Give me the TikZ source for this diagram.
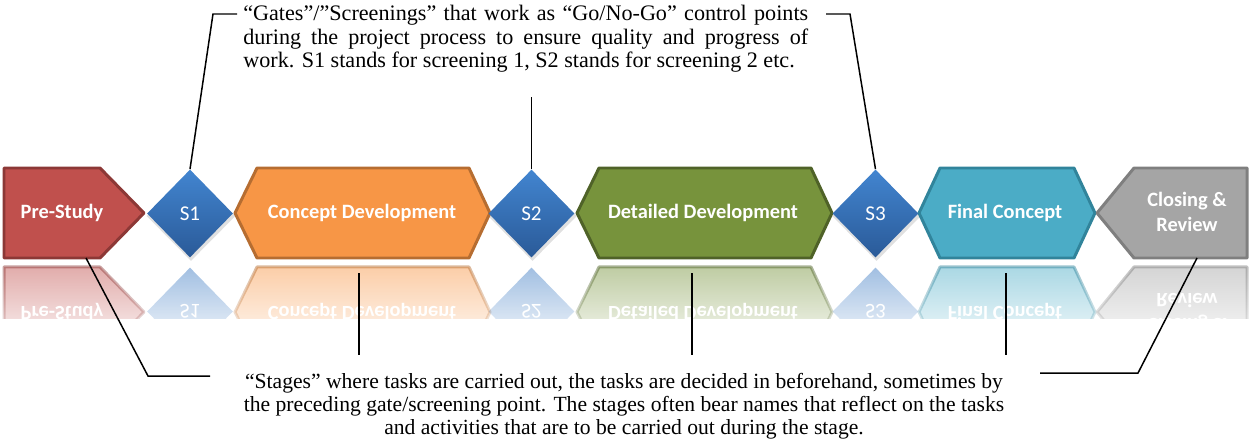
\documentclass[tikz,border=0pt]{standalone}
\usepackage{fontspec}
\setmainfont{Liberation Serif}
\newfontfamily\calib{Carlito}
\usetikzlibrary{shapes.geometric,fadings}

\tikzfading[name=refl, top color=transparent!52, middle color=transparent!86, bottom color=transparent!100]

\definecolor{redF}{RGB}{192,80,77}\definecolor{redB}{RGB}{140,56,54}
\definecolor{orF}{RGB}{247,150,70}\definecolor{orB}{RGB}{182,109,49}
\definecolor{grF}{RGB}{119,147,60}\definecolor{grB}{RGB}{79,98,40}
\definecolor{cyF}{RGB}{75,172,198}\definecolor{cyB}{RGB}{49,132,155}
\definecolor{gyF}{RGB}{165,165,165}\definecolor{gyB}{RGB}{127,127,127}
\definecolor{blT}{RGB}{66,133,208}\definecolor{blB}{RGB}{42,90,152}

\tikzset{
 prepath/.style={insert path={(4,168) -- (100,168) -- (144,213) -- (100,258) -- (4,258) -- cycle}},
 conpath/.style={insert path={(235,213) -- (257,168) -- (469,168) -- (490,213) -- (469,258) -- (257,258) -- cycle}},
 detpath/.style={insert path={(577,213) -- (599,168) -- (811,168) -- (832,213) -- (811,258) -- (599,258) -- cycle}},
 finpath/.style={insert path={(919,213) -- (940,168) -- (1074,168) -- (1095,213) -- (1074,258) -- (940,258) -- cycle}},
 clopath/.style={insert path={(1097,213) -- (1134,168) -- (1247,168) -- (1247,258) -- (1134,258) -- cycle}},
}

\begin{document}
\begin{tikzpicture}[x=0.02cm,y=-0.02cm,
 stagebox/.style={line width=1.7pt, line join=round},
 stagefade/.style={line width=1.7pt, line join=round, path fading=refl},
 stagelabel/.style={text=white, font=\calib\bfseries\fontsize{11.6}{14.6}\selectfont, align=center, inner sep=0},
 gate/.style={diamond, aspect=1, inner sep=0, minimum width=1.72cm, minimum height=1.76cm, top color=blT, bottom color=blB, text=white, font=\calib\fontsize{12}{14}\selectfont},
 gatefade/.style={diamond, aspect=1, inner sep=0, minimum width=1.72cm, minimum height=1.76cm, fill=blT!75!blB, path fading=refl, text=white, font=\calib\fontsize{12}{14}\selectfont, yscale=-1},
 gateshadow/.style={diamond, aspect=1, inner sep=0, minimum width=1.78cm, minimum height=1.80cm, fill=black, opacity=0.12},
 link/.style={line width=0.85pt, black},
 note/.style={inner sep=0, font=\fontsize{12.6}{13.3}\selectfont}]

\useasboundingbox (0,0) rectangle (1250,439);

% reflections
\begin{scope}
 \clip (0,264) rectangle (1250,318);
 \begin{scope}[shift={(0,99)}]
  \path[stagefade, draw=redB, fill=redF, prepath];
  \path[stagefade, draw=orB, fill=orF, conpath];
  \path[stagefade, draw=grB, fill=grF, detpath];
  \path[stagefade, draw=cyB, fill=cyF, finpath];
  \path[stagefade, draw=gyB, fill=gyF, clopath];
 \end{scope}
 \node[gatefade] (s1r) at (190,311.5) {S1};
 \node[gatefade] (s2r) at (531.5,311.5) {S2};
 \node[gatefade] (s3r) at (875.5,311.5) {S3};
 \node[stagelabel, yscale=-1] (prer) at (62,312) {Pre-Study};
 \node[stagelabel, yscale=-1] (conr) at (362,312) {Concept Development};
 \node[stagelabel, yscale=-1] (detr) at (703,312) {Detailed Development};
 \node[stagelabel, yscale=-1] (finr) at (1005,312) {Final Concept};
 \node[stagelabel, yscale=-1] (clor) at (1187,313) {Closing \&\\Review};
\end{scope}

% soft shadows under gates
\node[gateshadow] (s1s) at (191,216) {};
\node[gateshadow] (s2s) at (532.5,216) {};
\node[gateshadow] (s3s) at (876.5,216) {};

% stages
\path[stagebox, draw=redB, fill=redF, prepath];
\path[stagebox, draw=orB, fill=orF, conpath];
\path[stagebox, draw=grB, fill=grF, detpath];
\path[stagebox, draw=cyB, fill=cyF, finpath];
\path[stagebox, draw=gyB, fill=gyF, clopath];

\node[stagelabel] (pre) at (62,213) {Pre-Study};
\node[gate] (s1) at (190,213.5) {S1};
\node[stagelabel] (concept) at (362,213) {Concept Development};
\node[gate] (s2) at (531.5,213.5) {S2};
\node[stagelabel] (detail) at (703,213) {Detailed Development};
\node[gate] (s3) at (875.5,213.5) {S3};
\node[stagelabel] (final) at (1005,213) {Final Concept};
\node[stagelabel] (closing) at (1187,212) {Closing \&\\Review};

% notes
\node[note, anchor=base west] (gates) at (243,21) {\parbox[t]{11.3cm}{\hyphenpenalty=10000
“Gates”/”Screenings” that work as “Go/No-Go” control points\linebreak
during the project process to ensure quality and progress of\linebreak
work. S1 stands for screening 1, S2 stands for screening 2 etc.}};

\node[note, anchor=base, font=\fontsize{12.3}{13.1}\selectfont] (stages) at (624,388) {\parbox[t]{17cm}{\centering
“Stages” where tasks are carried out, the tasks are decided in beforehand, sometimes by\\
the preceding gate/screening point. The stages often bear names that reflect on the tasks\\
and activities that are to be carried out during the stage.}};

% connectors
\coordinate (k1) at (213,14);
\coordinate (k1e) at (237,14);
\coordinate (k2) at (531.5,97);
\coordinate (k3) at (850,14);
\coordinate (k3e) at (826,14);
\draw[link] (s1.north) -- (k1) -- (k1e);
\draw[link] (s2.north) -- (k2);
\draw[link] (s3.north) -- (k3) -- (k3e);

\coordinate (b0) at (86,258);
\coordinate (b0k) at (148,376);
\coordinate (b0e) at (210,376);
\coordinate (b1) at (359,273);
\coordinate (b1e) at (359,355);
\coordinate (b2) at (692,273);
\coordinate (b2e) at (692,355);
\coordinate (b3) at (1006,273);
\coordinate (b3e) at (1006,355);
\coordinate (b4) at (1197,258);
\coordinate (b4k) at (1138,373);
\coordinate (b4e) at (1040,373);
\draw[link] (b0) -- (b0k) -- (b0e);
\draw[link] (b1) -- (b1e);
\draw[link] (b2) -- (b2e);
\draw[link] (b3) -- (b3e);
\draw[link] (b4) -- (b4k) -- (b4e);
\end{tikzpicture}
\end{document}
